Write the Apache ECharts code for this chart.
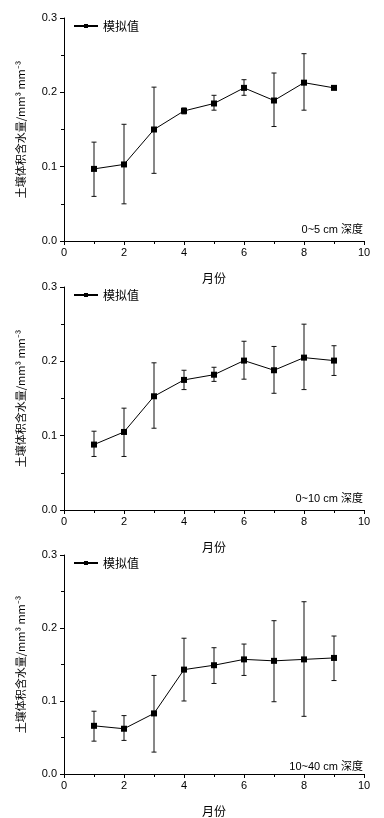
<!DOCTYPE html>
<html><head><meta charset="utf-8">
<script src="https://cdn.jsdelivr.net/npm/echarts@6/dist/echarts.min.js"></script>
<style>html,body{margin:0;padding:0;background:#fff}#c{width:384px;height:818px}</style>
</head><body><div id="c"></div>
<script>
const months = [1,2,3,4,5,6,7,8,9];
const xTicks = [0,2,4,6,8,10];
const yTicks = [0.0,0.1,0.2,0.3];
const seriesName = '模拟值';
const depthLabels = ['0~5 cm 深度','0~10 cm 深度','10~40 cm 深度'];
// panel 1: 0~5 cm
const mean1 = [0.097,0.103,0.150,0.175,0.185,0.206,0.189,0.213,0.206];
const hi1   = [0.133,0.157,0.207,0.179,0.196,0.217,0.226,0.252,null];
const lo1   = [0.060,0.050,0.091,0.171,0.176,0.196,0.154,0.176,null];
// panel 2: 0~10 cm
const mean2 = [0.088,0.105,0.153,0.175,0.182,0.201,0.188,0.205,0.201];
const hi2   = [0.106,0.137,0.198,0.188,0.192,0.227,0.220,0.250,0.221];
const lo2   = [0.072,0.072,0.110,0.162,0.173,0.176,0.157,0.162,0.181];
// panel 3: 10~40 cm
const mean3 = [0.066,0.062,0.083,0.143,0.149,0.157,0.155,0.157,0.159];
const hi3   = [0.086,0.080,0.135,0.186,0.173,0.178,0.210,0.236,0.189];
const lo3   = [0.045,0.046,0.030,0.100,0.124,0.135,0.099,0.079,0.128];

const panels = [[mean1,hi1,lo1],[mean2,hi2,lo2],[mean3,hi3,lo3]];
const tops = [18, 287, 555];
const H = 223;
const font = '"Liberation Sans", Arial, "Noto Sans CJK SC", sans-serif';
const cjk = '"Noto Sans CJK SC", "Liberation Sans", sans-serif';

const grid=[], xAxis=[], yAxis=[], series=[], legend=[], graphic=[];
panels.forEach((p,i)=>{
  grid.push({left:64, right:20, top:tops[i], height:H});
  xAxis.push({type:'value', gridIndex:i, min:xTicks[0], max:xTicks[xTicks.length-1], interval:2,
    name:'月份', nameLocation:'middle', nameGap:31,
    nameTextStyle:{fontFamily:cjk, fontSize:12, color:'#000'},
    axisLine:{onZero:false, lineStyle:{color:'#000', width:1}},
    axisTick:{length:4, lineStyle:{color:'#000'}},
    minorTick:{show:true, splitNumber:2, length:3, lineStyle:{color:'#000'}},
    splitLine:{show:false},
    axisLabel:{fontFamily:font, fontSize:11, color:'#000', margin:6}});
  yAxis.push({type:'value', gridIndex:i, min:yTicks[0], max:yTicks[yTicks.length-1], interval:0.1,
    name:'土壤体积含水量/mm³ mm⁻³', nameLocation:'middle', nameGap:38, nameRotate:90,
    nameTextStyle:{fontFamily:cjk, fontSize:11, color:'#000'},
    axisLine:{show:true, onZero:false, lineStyle:{color:'#000', width:1}},
    axisTick:{show:true, length:4, lineStyle:{color:'#000'}},
    minorTick:{show:true, splitNumber:2, length:3, lineStyle:{color:'#000'}},
    splitLine:{show:false},
    axisLabel:{fontFamily:font, fontSize:11, color:'#000', margin:7, formatter:v=>v.toFixed(1)}});
  const [m,hi,lo]=p;
  series.push({type:'custom', xAxisIndex:i, yAxisIndex:i, silent:true, z:2,
    data: months.map((x,k)=>[x, lo[k], hi[k]]).filter(d=>d[1]!=null),
    renderItem:(params,api)=>{
      const x=api.value(0);
      const a=api.coord([x,api.value(1)]), b=api.coord([x,api.value(2)]);
      const w=2.5, st={stroke:'#111', lineWidth:1};
      return {type:'group', children:[
        {type:'line', shape:{x1:a[0],y1:a[1],x2:b[0],y2:b[1]}, style:st},
        {type:'line', shape:{x1:a[0]-w,y1:a[1],x2:a[0]+w,y2:a[1]}, style:st},
        {type:'line', shape:{x1:b[0]-w,y1:b[1],x2:b[0]+w,y2:b[1]}, style:st}]};
    }});
  series.push({type:'line', name:seriesName, xAxisIndex:i, yAxisIndex:i, z:3,
    data: months.map((x,k)=>[x,m[k]]),
    symbol:'rect', symbolSize:6, showAllSymbol:true,
    lineStyle:{color:'#000', width:1}, itemStyle:{color:'#000'}, animation:false});
  legend.push({data:[seriesName], left:73, top:tops[i]+2, padding:0, itemWidth:24, itemHeight:5, itemGap:5,
    textStyle:{fontFamily:cjk, fontSize:12, color:'#000', padding:[0,0,0,0]}, selectedMode:false});
  graphic.push({type:'text', right:21, top:tops[i]+H-17,
    style:{text:depthLabels[i], font:'11px '+font, fill:'#000'}});
});

const chart = echarts.init(document.getElementById('c'), null, {renderer:'canvas'});
chart.setOption({animation:false, backgroundColor:'#fff', grid, xAxis, yAxis, series, legend, graphic});
</script></body></html>
